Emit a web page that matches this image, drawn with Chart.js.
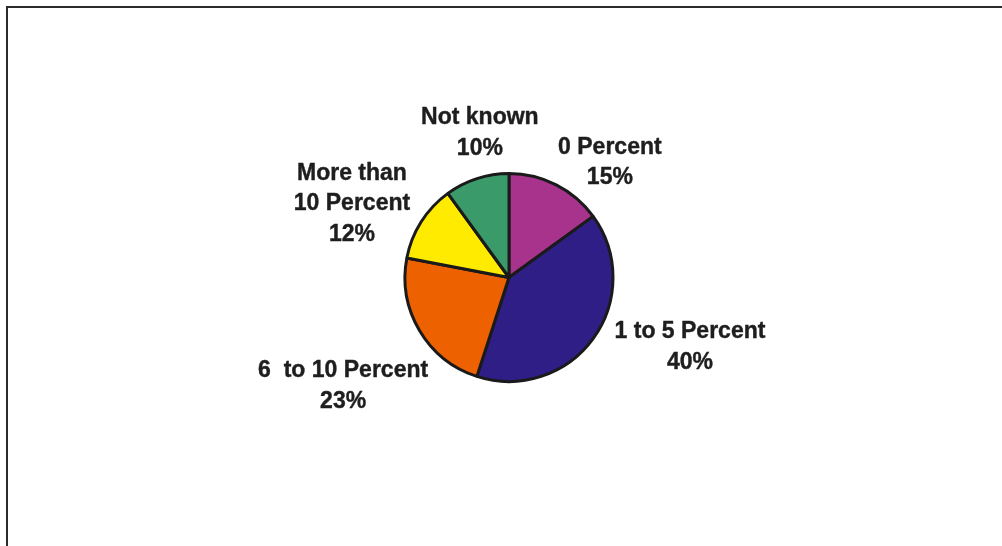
<!DOCTYPE html>
<html>
<head>
<meta charset="utf-8">
<script src="https://cdn.jsdelivr.net/npm/chart.js@4"></script>
<style>
  html, body { margin: 0; padding: 0; background: #ffffff; }
  #wrap { position: relative; width: 1002px; height: 546px; }
  canvas { display: block; }
</style>
</head>
<body>
<div id="wrap"><canvas id="c" width="1002" height="546"></canvas></div>
<script>
// ---- data ----
const categories = ['0 Percent', '1 to 5 Percent', '6  to 10 Percent', 'More than\n10 Percent', 'Not known'];
const values = [15, 40, 23, 12, 10];
const colors = ['#A8338C', '#2E1E86', '#EE6100', '#FFEB00', '#3B9A6A'];

// ---- label layout (offset of label block centre from pie centre, in units of the pie radius) ----
const labelOffsets = [
  [0.97, -1.105],
  [1.74, 0.67],
  [-1.595, 1.045],
  [-1.51, -0.71],
  [-0.28, -1.39]
];

const framePlugin = {
  id: 'frame',
  beforeDraw(chart) {
    const ctx = chart.ctx;
    ctx.save();
    ctx.fillStyle = '#ffffff';
    ctx.fillRect(0, 0, chart.width, chart.height);
    ctx.fillStyle = '#2b2b2b';
    ctx.fillRect(6, 6, chart.width - 6, 2);
    ctx.fillRect(6, 6, 2, chart.height - 6);
    ctx.restore();
  }
};

const labelPlugin = {
  id: 'pieLabels',
  afterDatasetsDraw(chart) {
    const ctx = chart.ctx;
    const meta = chart.getDatasetMeta(0);
    const total = values.reduce((a, b) => a + b, 0);
    ctx.save();
    ctx.font = 'bold 23px "Liberation Sans", Arial, sans-serif';
    ctx.fillStyle = '#1e1e1e';
    ctx.strokeStyle = '#1e1e1e';
    ctx.lineWidth = 0.4;
    ctx.textAlign = 'center';
    ctx.textBaseline = 'middle';
    const lh = 30.5;
    meta.data.forEach((arc, i) => {
      const p = arc.getProps(['x', 'y', 'outerRadius'], true);
      const pct = Math.round(values[i] / total * 100) + '%';
      const lines = categories[i].split('\n').concat([pct]);
      const cx = p.x + labelOffsets[i][0] * p.outerRadius;
      const cy = p.y + labelOffsets[i][1] * p.outerRadius;
      const y0 = cy - (lines.length - 1) * lh / 2;
      lines.forEach((t, k) => {
        ctx.fillText(t, cx, y0 + k * lh);
        ctx.strokeText(t, cx, y0 + k * lh);
      });
    });
    ctx.restore();
  }
};

new Chart(document.getElementById('c'), {
  type: 'pie',
  data: {
    labels: categories,
    datasets: [{
      data: values,
      backgroundColor: colors,
      borderColor: '#1a1a1a',
      borderWidth: 3,
      borderAlign: 'center'
    }]
  },
  options: {
    responsive: false,
    animation: false,
    rotation: 0,
    layout: { padding: { top: 172, bottom: 163, left: 299, right: 283 } },
    plugins: {
      legend: { display: false },
      tooltip: { enabled: false },
      title: { display: false }
    }
  },
  plugins: [framePlugin, labelPlugin]
});
</script>
</body>
</html>
